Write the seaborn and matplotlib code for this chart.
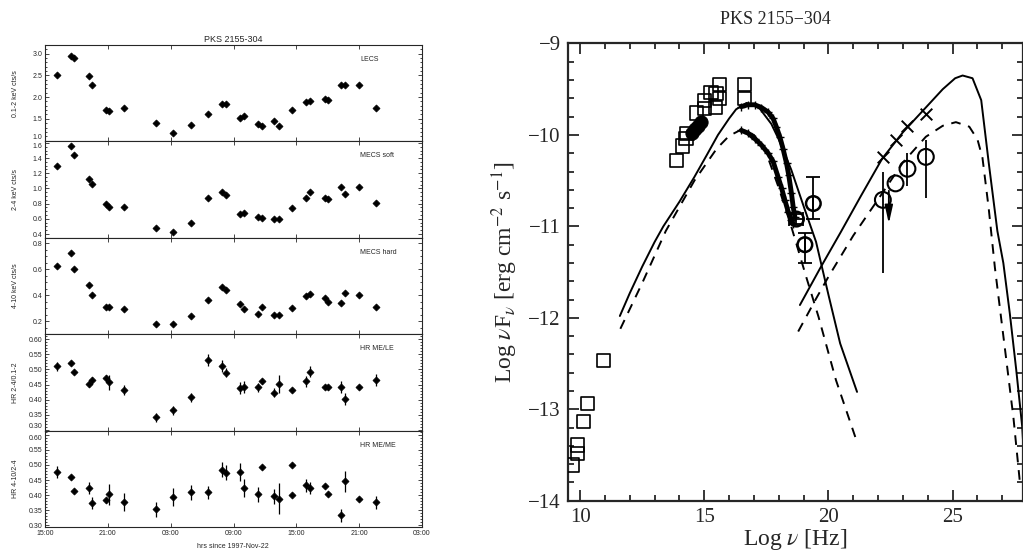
import numpy as np
import matplotlib
matplotlib.use('Agg')
import matplotlib.pyplot as plt
from matplotlib.ticker import MultipleLocator
import seaborn as sns

# ─── Light curve data (hours since 1997-Nov-22 15:00) ─────────
hours = [1.11, 2.48, 2.76, 4.16, 4.48, 5.80, 6.12, 7.52, 10.6, 12.26,
         13.9, 15.6, 16.9, 17.3, 18.6, 19.0, 20.3, 20.7, 21.9, 22.3,
         23.6, 24.95, 25.3, 26.7, 27.0, 28.3, 28.6, 29.97, 31.6]
lecs = [2.52, 2.94, 2.89, 2.48, 2.27, 1.70, 1.67, 1.76, 1.40, 1.18,
        1.36, 1.62, 1.85, 1.85, 1.53, 1.56, 1.39, 1.33, 1.44, 1.34,
        1.70, 1.89, 1.92, 1.95, 1.93, 2.28, 2.28, 2.29, 1.74]
mecs_soft = [1.29, 1.56, 1.44, 1.13, 1.06, 0.80, 0.75, 0.76, 0.48, 0.42,
             0.55, 0.87, 0.95, 0.91, 0.67, 0.68, 0.62, 0.61, 0.60, 0.60,
             0.74, 0.87, 0.95, 0.87, 0.86, 1.02, 0.93, 1.02, 0.81]
mecs_hard = [0.62, 0.72, 0.60, 0.48, 0.40, 0.31, 0.31, 0.29, 0.175, 0.175,
             0.236, 0.36, 0.465, 0.44, 0.33, 0.296, 0.254, 0.31, 0.25, 0.245,
             0.30, 0.39, 0.41, 0.38, 0.35, 0.34, 0.42, 0.40, 0.31]
hr_me_le = [0.511, 0.522, 0.492, 0.453, 0.464, 0.472, 0.457, 0.432, 0.341, 0.364,
            0.408, 0.531, 0.512, 0.489, 0.439, 0.443, 0.441, 0.460, 0.423, 0.452,
            0.433, 0.461, 0.493, 0.442, 0.441, 0.442, 0.403, 0.443, 0.464]
hr_me_le_err = [0.015, 0.005, 0.006, 0.012, 0.012, 0.010, 0.026, 0.017, 0.015, 0.015,
                0.015, 0.020, 0.020, 0.015, 0.020, 0.020, 0.015, 0.008, 0.015, 0.030,
                0.005, 0.018, 0.018, 0.008, 0.008, 0.020, 0.020, 0.006, 0.020]
hours_me = [1.11, 2.48, 2.76, 4.16, 4.48, 5.80, 6.12, 7.52, 10.6, 12.26,
            13.9, 15.6, 16.9, 17.3, 18.6, 19.0, 20.3, 20.7, 21.9, 22.3,
            23.6, 23.6, 24.95, 25.3, 26.7, 27.0, 28.3, 28.6, 29.97, 31.6]
hr_me_me = [0.476, 0.461, 0.414, 0.423, 0.375, 0.383, 0.403, 0.377, 0.353, 0.395,
            0.410, 0.409, 0.484, 0.474, 0.476, 0.423, 0.403, 0.494, 0.396, 0.389,
            0.498, 0.400, 0.432, 0.425, 0.429, 0.404, 0.333, 0.446, 0.387, 0.376]
hr_me_me_err = [0.020, 0.005, 0.005, 0.020, 0.020, 0.008, 0.035, 0.030, 0.025, 0.030,
                0.025, 0.020, 0.025, 0.025, 0.030, 0.030, 0.025, 0.005, 0.025, 0.050,
                0.004, 0.005, 0.020, 0.020, 0.005, 0.005, 0.020, 0.035, 0.005, 0.020]
time_ticks = [0, 6, 12, 18, 24, 30, 36]
time_labels = ['15:00', '21:00', '03:00', '09:00', '15:00', '21:00', '03:00']

# ─── SED data (log nu [Hz], log nuFnu) ────────────────────────
sq_x = [9.69, 9.89, 9.89, 10.13, 10.30, 10.95, 13.89, 14.12, 14.26, 14.30,
        14.68, 15.00, 15.00, 15.27, 15.45, 15.47, 15.61, 15.61, 16.62, 16.62]
sq_y = [-13.61, -13.48, -13.39, -13.13, -12.94, -12.47, -10.28, -10.12, -10.04, -9.98,
        -9.76, -9.62, -9.71, -9.54, -9.70, -9.55, -9.45, -9.60, -9.45, -9.60]
blob_x = [14.50, 14.62, 14.74, 14.86]
blob_y = [-9.98, -9.94, -9.90, -9.86]
xhigh_x = [16.49, 16.76, 17.03, 17.30, 17.57, 17.77, 17.90, 18.04, 18.17, 18.31,
           18.40, 18.51, 18.58, 18.65]
xhigh_y = [-9.69, -9.67, -9.67, -9.70, -9.75, -9.82, -9.91, -10.02, -10.15, -10.31,
           -10.44, -10.64, -10.79, -10.90]
xlow_x = [16.49, 16.76, 17.03, 17.30, 17.57, 17.77, 17.97, 18.11, 18.24, 18.38,
          18.51, 18.58]
xlow_y = [-9.95, -9.98, -10.04, -10.11, -10.20, -10.29, -10.46, -10.58, -10.71, -10.84,
          -10.93, -10.97]
hx_x = [18.71, 19.39, 19.05]
hx_y = [-10.92, -10.75, -11.20]
hx_xerr = [0.28, 0.0, 0.0]
hx_ylo = [0.05, 0.17, 0.20]
hx_yhi = [0.05, 0.29, 0.13]
gam_x = [22.19, 22.70, 23.18, 23.92]
gam_y = [-10.71, -10.53, -10.37, -10.24]
gam_ylo = [0.80, 0.0, 0.19, 0.45]
gam_yhi = [0.31, 0.0, 0.17, 0.18]
ul_x = [22.43]
ul_top = [-10.58]
ul_tip = [-11.0]
cross_x = [22.19, 22.70, 23.18, 23.92]
cross_y = [-10.24, -10.06, -9.90, -9.77]

syn_solid_x = [11.6, 12.0, 12.5, 13.0, 13.35, 14.0, 14.6, 15.1, 15.55, 16.0,
               16.28, 16.7, 17.2, 17.7, 18.0, 18.5, 19.0, 19.5, 20.0, 20.47, 21.15]
syn_solid_y = [-11.98, -11.73, -11.44, -11.17, -11.0, -10.73, -10.46, -10.22, -10.0, -9.82,
               -9.72, -9.65, -9.70, -9.88, -10.05, -10.38, -10.78, -11.17, -11.75, -12.28, -12.81]
syn_dash_x = [11.62, 12.5, 13.45, 14.6, 15.5, 16.0, 16.5, 17.0, 17.5, 18.0,
              18.5, 19.1, 19.6, 20.3, 21.15]
syn_dash_y = [-12.12, -11.62, -11.05, -10.50, -10.15, -10.01, -9.94, -10.0, -10.2, -10.58,
              -11.0, -11.55, -11.99, -12.68, -13.36]
ic_solid_x = [18.85, 19.66, 20.5, 21.3, 22.16, 23.0, 23.92, 24.6, 25.1, 25.4,
              25.8, 26.15, 26.45, 26.8, 27.04, 27.3, 27.56, 27.8, 27.95]
ic_solid_y = [-11.86, -11.46, -11.06, -10.67, -10.26, -9.97, -9.70, -9.50, -9.38, -9.35,
              -9.38, -9.62, -10.30, -11.05, -11.40, -11.95, -12.57, -13.19, -13.90]
ic_dash_x = [18.78, 19.46, 20.0, 21.0, 22.16, 23.0, 23.92, 24.6, 25.13, 25.67,
             26.0, 26.2, 26.45, 26.7, 26.95, 27.16, 27.45, 27.7]
ic_dash_y = [-12.15, -11.81, -11.55, -11.10, -10.64, -10.30, -10.02, -9.90, -9.86, -9.91,
             -10.05, -10.25, -10.80, -11.45, -12.0, -12.46, -13.10, -13.78]


def draw_light_curves(fig):
    x0, w = 45 / 1023, 377 / 1023
    y0, h = 1 - 527 / 551, 482 / 5 / 551
    panels = [
        (hours, lecs, None, '0.1-2 keV cts/s', 'LECS', (0.98, 3.2), [1.0, 1.5, 2.0, 2.5, 3.0], 0.1, '%.1f'),
        (hours, mecs_soft, None, '2-4 keV cts/s', 'MECS soft', (0.35, 1.62), [0.4, 0.6, 0.8, 1.0, 1.2, 1.4, 1.6], 0.05, '%.1f'),
        (hours, mecs_hard, None, '4-10 keV cts/s', 'MECS hard', (0.1, 0.84), [0.2, 0.4, 0.6, 0.8], 0.05, '%.1f'),
        (hours, hr_me_le, hr_me_le_err, 'HR 2-4/0.1-2', 'HR ME/LE', (0.297, 0.617), [0.30, 0.35, 0.40, 0.45, 0.50, 0.55, 0.60], 0.01, '%.2f'),
        (hours_me, hr_me_me, hr_me_me_err, 'HR 4-10/2-4', 'HR ME/ME', (0.295, 0.613), [0.30, 0.35, 0.40, 0.45, 0.50, 0.55, 0.60], 0.01, '%.2f'),
    ]
    for i, (t, v, err, ylab, name, ylim, yt, minor, fmt) in enumerate(panels):
        ax = fig.add_axes([x0, y0 + (4 - i) * h, w, h])
        if err is not None:
            ax.errorbar(t, v, yerr=err, fmt='none', ecolor='black', elinewidth=0.9)
        sns.scatterplot(x=t, y=v, ax=ax, marker='D', s=13, color='black',
                        edgecolor='black', linewidth=0.5, zorder=3)
        ax.set_xlim(0, 36)
        ax.set_ylim(*ylim)
        ax.set_yticks(yt)
        ax.set_yticklabels([fmt % y for y in yt])
        ax.yaxis.set_minor_locator(MultipleLocator(minor))
        ax.set_xticks(time_ticks)
        ax.tick_params(which='both', direction='in', top=True, right=True,
                       labelsize=5, width=0.6, pad=2)
        ax.tick_params(which='major', length=3)
        ax.tick_params(which='minor', length=1.5)
        for s in ax.spines.values():
            s.set_linewidth(0.8)
        # keep labels at panel joins from running into each other
        ylabels = ax.get_yticklabels()
        if i in (0, 3):
            ylabels[0].set_va('bottom')
        if i in (1, 4):
            ylabels[-1].set_va('top')
        ax.set_ylabel(ylab, fontsize=5)
        ax.yaxis.set_label_coords(-0.07, 0.5)
        ax.text(0.836, 0.85, name, transform=ax.transAxes, fontsize=5, ha='left', va='center')
        if i < 4:
            ax.set_xticklabels([])
        else:
            ax.set_xticklabels(time_labels)
    fig.text(233 / 1023, 1 - 39 / 551, 'PKS 2155-304', fontsize=6.5, ha='center', va='center')
    fig.text(233 / 1023, 1 - 546 / 551, 'hrs since 1997-Nov-22', fontsize=5, ha='center', va='center')


def draw_sed(fig):
    ax = fig.add_axes([567.7 / 1023, 1 - 500.7 / 551, 455 / 1023, 457.2 / 551])
    serif = ['Liberation Serif', 'DejaVu Serif']

    sns.lineplot(x=syn_solid_x, y=syn_solid_y, ax=ax, sort=False, estimator=None, color='black', lw=1.4)
    sns.lineplot(x=syn_dash_x, y=syn_dash_y, ax=ax, sort=False, estimator=None, color='black', lw=1.4, linestyle=(0, (5, 4)))
    sns.lineplot(x=ic_solid_x, y=ic_solid_y, ax=ax, sort=False, estimator=None, color='black', lw=1.4)
    sns.lineplot(x=ic_dash_x, y=ic_dash_y, ax=ax, sort=False, estimator=None, color='black', lw=1.4, linestyle=(0, (5, 4)))

    # BeppoSAX spectra drawn as dense thick bands
    sns.lineplot(x=xhigh_x, y=xhigh_y, ax=ax, sort=False, estimator=None, color='black', lw=3.5)
    sns.lineplot(x=xlow_x, y=xlow_y, ax=ax, sort=False, estimator=None, color='black', lw=3.5)
    sns.scatterplot(x=xhigh_x, y=xhigh_y, ax=ax, marker='+', s=40, color='black', linewidth=1)
    sns.scatterplot(x=xlow_x, y=xlow_y, ax=ax, marker='+', s=40, color='black', linewidth=1)

    sns.scatterplot(x=sq_x, y=sq_y, ax=ax, marker='s', s=90, facecolor='none',
                    edgecolor='black', linewidth=1.2, zorder=3)
    sns.scatterplot(x=blob_x, y=blob_y, ax=ax, marker='o', s=90, color='black',
                    edgecolor='black', zorder=3)

    ax.errorbar(hx_x, hx_y, xerr=hx_xerr, yerr=[hx_ylo, hx_yhi], fmt='none',
                ecolor='black', elinewidth=1.3, capsize=5, capthick=1.3)
    sns.scatterplot(x=hx_x, y=hx_y, ax=ax, marker='o', s=110, facecolor='none',
                    edgecolor='black', linewidth=1.8, zorder=4)

    ax.errorbar(gam_x, gam_y, yerr=[gam_ylo, gam_yhi], fmt='none',
                ecolor='black', elinewidth=1.3)
    sns.scatterplot(x=gam_x, y=gam_y, ax=ax, marker='o', s=130, facecolor='none',
                    edgecolor='black', linewidth=1.5, zorder=4)
    for x, yt, yb in zip(ul_x, ul_top, ul_tip):
        ax.annotate('', xy=(x, yb), xytext=(x, yt),
                    arrowprops=dict(arrowstyle='-|>,head_length=0.9,head_width=0.2',
                                    lw=1.3, color='black'))
    sns.scatterplot(x=cross_x, y=cross_y, ax=ax, marker='x', s=70, color='black',
                    linewidth=1.4, zorder=4)

    ax.set_xlim(9.5, 27.82)
    ax.set_ylim(-14, -9)
    ax.set_xticks([10, 15, 20, 25])
    ax.set_yticks([-9, -10, -11, -12, -13, -14])
    ax.set_yticklabels(['\u22129', '\u221210', '\u221211', '\u221212', '\u221213', '\u221214'])
    ax.xaxis.set_minor_locator(MultipleLocator(1))
    ax.yaxis.set_minor_locator(MultipleLocator(0.2))
    ax.tick_params(which='both', direction='in', top=True, right=True,
                   labelsize=15, width=1.3, pad=5)
    ax.tick_params(which='major', length=8)
    ax.tick_params(which='minor', length=4)
    for lab in ax.get_xticklabels() + ax.get_yticklabels():
        lab.set_family(serif)
    for s in ax.spines.values():
        s.set_linewidth(1.6)
    ax.set_xlabel(r'Log $\nu$ [Hz]', fontsize=17, family=serif, labelpad=0)
    ax.set_ylabel(r'Log $\nu$F$_\nu$ [erg cm$^{-2}$ s$^{-1}$]', fontsize=17,
                  family=serif, labelpad=6)
    fig.text(775 / 1023, 1 - 20 / 551, 'PKS 2155\u2212304', fontsize=13,
             family=serif, ha='center', va='center')


sns.set_theme(style='ticks')
plt.rcParams['font.family'] = ['Liberation Sans', 'DejaVu Sans']
plt.rcParams['mathtext.fontset'] = 'stix'

fig = plt.figure(figsize=(10.23, 5.51), dpi=100)
draw_light_curves(fig)
draw_sed(fig)
fig.savefig('out.png', dpi=100)
